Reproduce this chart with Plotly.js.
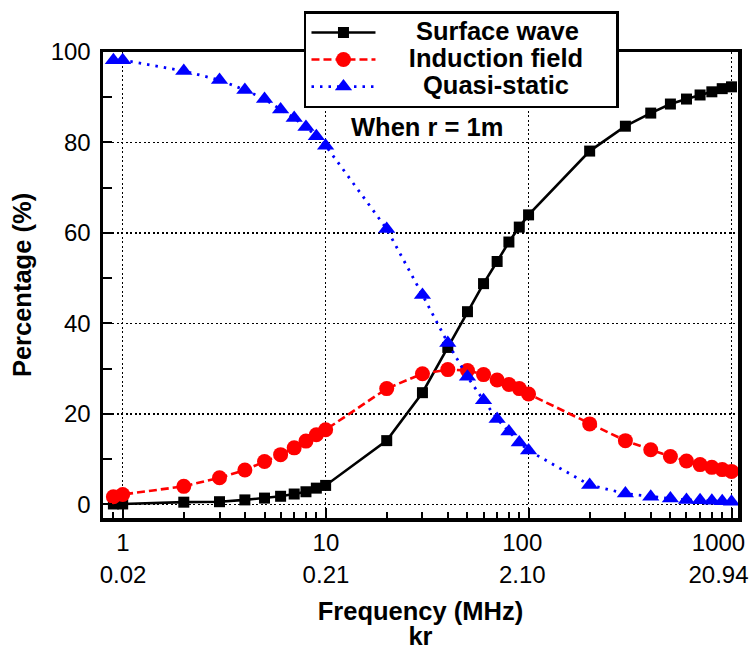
<!DOCTYPE html>
<html><head><meta charset="utf-8">
<script src="https://cdn.plot.ly/plotly-3.0.1.min.js"></script>
<style>html,body{margin:0;padding:0;background:#fff}</style>
</head><body>
<div id="chart" style="width:752px;height:650px"></div>
<script>
const freqMHz = [0.9,1,2,3,4,5,6,7,8,9,10,20,30,40,50,60,70,80,90,100,200,300,400,500,600,700,800,900,1000];
const surfaceWave = [0.1,0.1,0.5,0.6,1.0,1.4,1.8,2.3,2.8,3.6,4.2,14.1,24.7,34.7,42.6,48.8,53.7,58.0,61.3,64.0,78.1,83.6,86.5,88.5,89.6,90.5,91.2,91.9,92.3];
const inductionField = [1.7,2.2,4.0,5.9,7.6,9.5,11.0,12.5,14.0,15.4,16.5,25.6,28.9,29.8,29.6,28.7,27.5,26.5,25.6,24.4,17.8,14.1,12.1,10.6,9.6,8.8,8.2,7.7,7.3];
const quasiStatic = [98.2,98.2,95.8,93.8,91.6,89.6,87.3,85.4,83.4,81.4,79.3,60.9,46.3,35.7,28.2,23.0,18.9,16.1,13.7,11.9,4.3,2.4,1.7,1.3,1.0,0.9,0.8,0.7,0.6];
const seriesNames = ['Surface wave','Induction field','Quasi-static'];
const xTickVals = [1,10,100,1000];
const xTickFreq = ['1','10','100','1000'];
const xTickKr = ['0.02','0.21','2.10','20.94'];
const xMinorVals = [0.9,2,3,4,5,6,7,8,9,20,30,40,50,60,70,80,90,200,300,400,500,600,700,800,900];
const yTickVals = [0,20,40,60,80,100];
const yMinorVals = [10,30,50,70,90];
const noteText = 'When r = 1m';
const xTitle = 'Frequency (MHz)';
const xTitle2 = 'kr';
const yTitle = 'Percentage (%)';

const FONT = 'Liberation Sans, Arial, sans-serif';
const NB = '\u00a0';
const big = (s) => '<span style="font-size:25.5px;font-weight:bold">' + s + '</span>';
// legend text rendered larger than the legend's base font so rows stay tight
const legendPad = [[5, 0], [4, 4], [6, 0]];
const padNames = seriesNames.map((n, i) => big(NB.repeat(legendPad[i][0]) + n + NB.repeat(legendPad[i][1])));
// all tick labels are shifted left a little; leading spaces put the narrow ones back over their ticks
const tickLead = [4, 4, 2, 0];
const xTickText = xTickVals.map((v, i) =>
  NB.repeat(tickLead[i]) + xTickFreq[i] + '<br>' + NB.repeat(tickLead[i]) + xTickKr[i]);

const traces = [
  {x: freqMHz, y: surfaceWave, name: padNames[0], type: 'scatter', mode: 'lines+markers',
   line: {color: '#000000', width: 2.6}, marker: {symbol: 'square', size: 11, color: '#000000'}},
  {x: freqMHz, y: inductionField, name: padNames[1], type: 'scatter', mode: 'lines+markers',
   line: {color: '#ff0000', width: 2.6, dash: '8px,4px'}, marker: {symbol: 'circle', size: 15, color: '#ff0000'}},
  {x: freqMHz, y: quasiStatic, name: padNames[2], type: 'scatter', mode: 'lines+markers',
   line: {color: '#0000ff', width: 2.8, dash: '2.5px,6px'}, marker: {symbol: 'triangle-up', size: 15, color: '#0000ff'}}
];

const layout = {
  width: 752, height: 650,
  margin: {l: 103, r: 14, t: 48, b: 132},
  paper_bgcolor: '#ffffff', plot_bgcolor: '#ffffff',
  font: {family: FONT, size: 24, color: '#000000'},
  showlegend: true,
  legend: {
    x: 0.3165, y: 1.087, xanchor: 'left', yanchor: 'top',
    bgcolor: '#ffffff', bordercolor: '#000000', borderwidth: 2.5,
    font: {family: FONT, size: 18.5, color: '#000000', weight: 'bold'},
    itemwidth: 64, tracegroupgap: 0
  },
  xaxis: {
    type: 'log', range: [-0.097, 3.032],
    tickmode: 'array', tickvals: xTickVals, ticktext: xTickText,
    ticklabeloverflow: 'allow', ticklabelshift: -13,
    ticks: 'inside', ticklen: 10, tickwidth: 2, tickcolor: '#000',
    minor: {tickmode: 'array', tickvals: xMinorVals, ticks: 'inside', ticklen: 6, tickwidth: 2, tickcolor: '#000', showgrid: false},
    showline: true, linecolor: '#000', linewidth: 3.5, mirror: true,
    showgrid: true, gridcolor: '#000', gridwidth: 1.3, griddash: '2px,2.5px',
    zeroline: false, ticklabelstandoff: 1,
    tickfont: {family: FONT, size: 24, color: '#000'},
    title: {text: big(xTitle) + '<br>' + big(xTitle2),
            font: {family: FONT, size: 19.5, color: '#000', weight: 'bold'}, standoff: 22}
  },
  yaxis: {
    range: [-3, 100],
    tickmode: 'array', tickvals: yTickVals,
    ticks: 'inside', ticklen: 9, tickwidth: 2, tickcolor: '#000',
    minor: {tickmode: 'array', tickvals: yMinorVals, ticks: 'inside', ticklen: 9, tickwidth: 2, tickcolor: '#000', showgrid: false},
    showline: true, linecolor: '#000', linewidth: 3.5, mirror: true,
    showgrid: true, gridcolor: '#000', gridwidth: 1.3, griddash: '2px,2.5px',
    zeroline: false, ticklabelstandoff: 4,
    tickfont: {family: FONT, size: 24, color: '#000'},
    title: {text: yTitle, font: {family: FONT, size: 25.5, color: '#000', weight: 'bold'}, standoff: 12}
  },
  annotations: [
    {text: noteText, xref: 'paper', yref: 'paper', x: 0.51, y: 0.838, xanchor: 'center', yanchor: 'middle',
     showarrow: false, font: {family: FONT, size: 25.5, color: '#000', weight: 'bold'}}
  ]
};

Plotly.newPlot('chart', traces, layout, {displayModeBar: false, staticPlot: true});
</script>
</body></html>
